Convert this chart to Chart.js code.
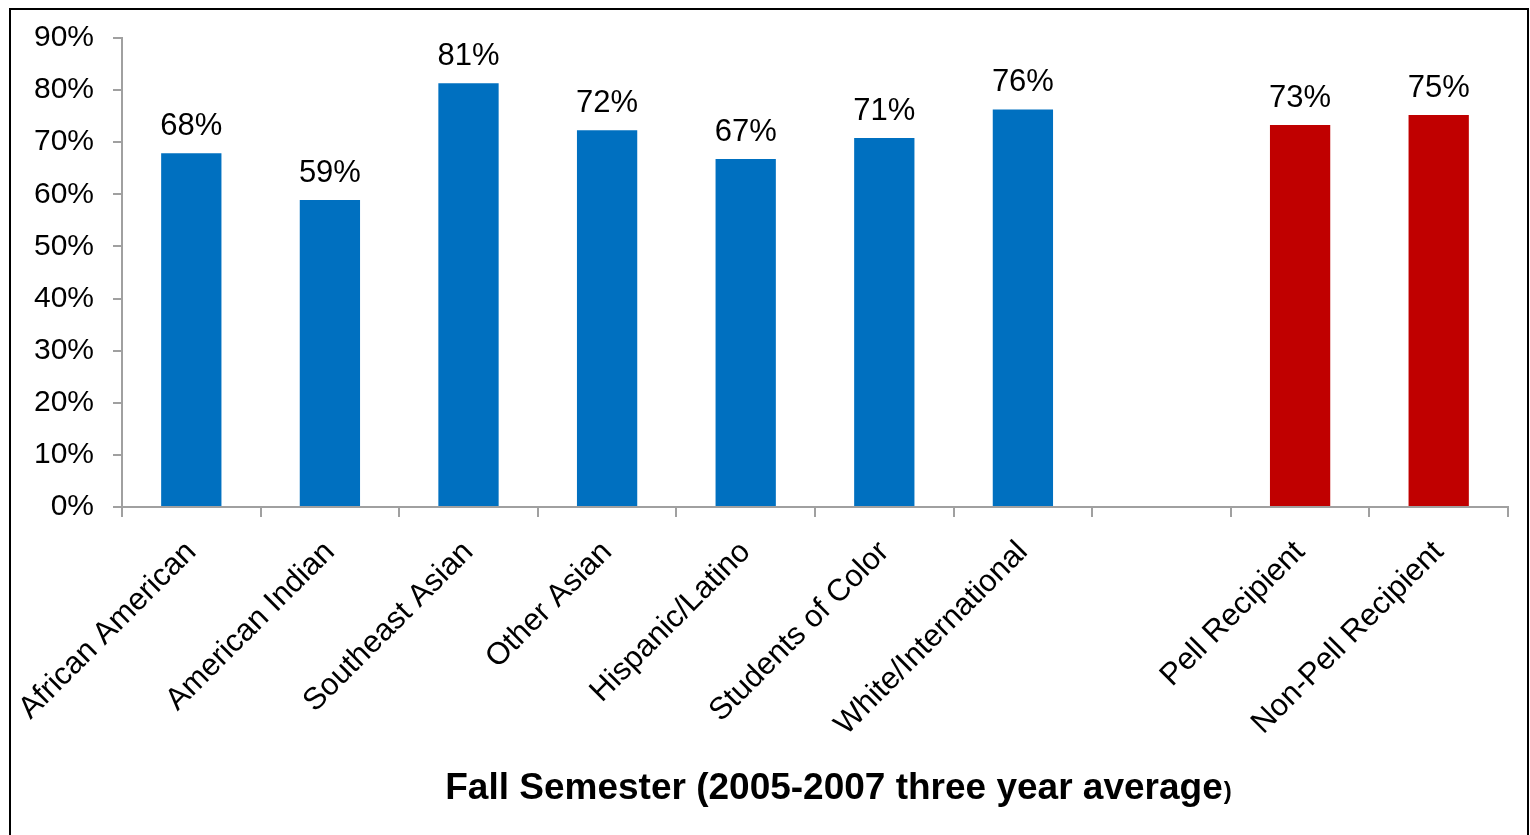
<!DOCTYPE html>
<html>
<head>
<meta charset="utf-8">
<script src="https://cdn.jsdelivr.net/npm/chart.js@4.4.1/dist/chart.umd.min.js"></script>
<style>
  html, body { margin: 0; padding: 0; background: #fff; overflow: hidden; }
  #wrap { position: relative; width: 1530px; height: 835px; }
  #frame { position: absolute; left: 9px; top: 8px; width: 1520px; height: 900px; border: 2.5px solid #000; box-sizing: border-box; pointer-events: none; }
  canvas { position: absolute; left: 0; top: 0; }
</style>
</head>
<body>
<div id="wrap">
  <canvas id="c" width="1530" height="835"></canvas>
  <div id="frame"></div>
</div>
<script>
const categories = ["African American", "American Indian", "Southeast Asian", "Other Asian", "Hispanic/Latino", "Students of Color", "White/International", "", "Pell Recipient", "Non-Pell Recipient"];
const raceValues = [67.9, 58.9, 81.3, 72.3, 66.8, 70.8, 76.3, null, null, null];
const pellValues = [null, null, null, null, null, null, null, null, 73.3, 75.2];
const yTicks = [0, 10, 20, 30, 40, 50, 60, 70, 80, 90];
const axisTitleMain = "Fall Semester (2005-2007 three year average";
const axisTitleEnd = ")";

const FONT = '"Liberation Sans", Arial, Helvetica, sans-serif';
const AXIS_GRAY = '#a0a0a0';

const valueLabels = {
  id: 'valueLabels',
  afterDatasetsDraw(chart) {
    const ctx = chart.ctx;
    ctx.save();
    ctx.font = '31px ' + FONT;
    ctx.fillStyle = '#000';
    ctx.textAlign = 'center';
    ctx.textBaseline = 'alphabetic';
    chart.data.datasets.forEach((ds, di) => {
      const meta = chart.getDatasetMeta(di);
      meta.data.forEach((bar, i) => {
        const v = ds.data[i];
        if (v === null || v === undefined) return;
        ctx.fillText(Math.round(v) + '%', bar.x, bar.y - 18);
      });
    });
    ctx.restore();
  }
};

const axisTitle = {
  id: 'axisTitle',
  afterDraw(chart) {
    const ctx = chart.ctx;
    const ca = chart.chartArea;
    ctx.save();
    ctx.fillStyle = '#000';
    ctx.textBaseline = 'alphabetic';
    ctx.textAlign = 'left';
    ctx.font = 'bold 37px ' + FONT;
    const w1 = ctx.measureText(axisTitleMain).width;
    ctx.font = 'bold 24px ' + FONT;
    const w2 = ctx.measureText(axisTitleEnd).width;
    const cx = (ca.left + ca.right) / 2 + 23;
    const x0 = cx - (w1 + w2) / 2;
    const y = 799;
    ctx.font = 'bold 37px ' + FONT;
    ctx.fillText(axisTitleMain, x0, y);
    ctx.font = 'bold 24px ' + FONT;
    ctx.fillText(axisTitleEnd, x0 + w1 + 1, y);
    ctx.restore();
  }
};

new Chart(document.getElementById('c'), {
  type: 'bar',
  data: {
    labels: categories,
    datasets: [
      { data: raceValues, backgroundColor: '#0070C0', grouped: false, barPercentage: 0.435, categoryPercentage: 1.0 },
      { data: pellValues, backgroundColor: '#C00000', grouped: false, barPercentage: 0.435, categoryPercentage: 1.0 }
    ]
  },
  options: {
    responsive: false,
    animation: false,
    devicePixelRatio: 1,
    layout: { padding: { left: 0, top: 38, right: 22, bottom: 0 } },
    plugins: { legend: { display: false }, tooltip: { enabled: false }, title: { display: false } },
    scales: {
      x: {
        offset: true,
        grid: { offset: true, drawOnChartArea: false, drawTicks: true, tickLength: 10, color: AXIS_GRAY, lineWidth: 2 },
        border: { display: true, color: AXIS_GRAY, width: 2 },
        ticks: {
          autoSkip: false, maxRotation: 45, minRotation: 45, padding: 17,
          color: '#000', font: { family: FONT, size: 31 }
        },
        afterFit(scale) { scale.height = 328; }
      },
      y: {
        min: 0, max: 90,
        afterBuildTicks(scale) { scale.ticks = yTicks.map(v => ({ value: v })); },
        grid: { drawOnChartArea: false, drawTicks: true, tickLength: 9, color: AXIS_GRAY, lineWidth: 2 },
        border: { display: true, color: AXIS_GRAY, width: 2 },
        ticks: {
          padding: 19, color: '#000', font: { family: FONT, size: 30 },
          callback: v => v + '%'
        },
        afterFit(scale) { scale.width = 122; }
      }
    }
  },
  plugins: [valueLabels, axisTitle]
});
</script>
</body>
</html>
